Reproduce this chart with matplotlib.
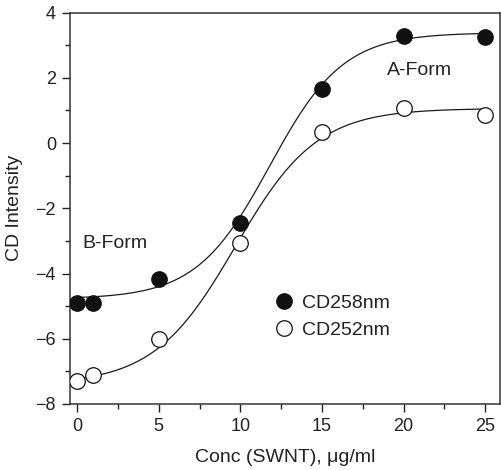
import numpy as np
import matplotlib
matplotlib.use("Agg")
import matplotlib.pyplot as plt
from matplotlib.ticker import MultipleLocator

plt.rcParams['font.family'] = ['Liberation Sans', 'DejaVu Sans']

# Data
conc = [0, 1, 5, 10, 15, 20, 25]
cd258 = [-4.9, -4.9, -4.17, -2.45, 1.65, 3.28, 3.25]
cd252 = [-7.3, -7.1, -6.0, -3.05, 0.33, 1.08, 0.85]

# Boltzmann sigmoid fit parameters (A1, A2, x0, dx) estimated from the drawn curves
fit258 = [-4.78, 3.38, 11.8, 2.25]
fit252 = [-7.4, 1.06, 9.7, 2.5]

xticks = [0, 5, 10, 15, 20, 25]
yticks = [-8, -6, -4, -2, 0, 2, 4]


def boltzmann(x, p):
    a1, a2, x0, dx = p
    return a2 + (a1 - a2) / (1 + np.exp((x - x0) / dx))


fig = plt.figure(figsize=(5.02, 4.70), dpi=100)
ax = fig.add_axes([70 / 502, 66 / 470, 430 / 502, 391.5 / 470])

xs = np.linspace(0, 25, 300)
ax.plot(xs, boltzmann(xs, fit258), color='#1a1a1a', lw=0.9, zorder=2)
ax.plot(xs, boltzmann(xs, fit252), color='#1a1a1a', lw=0.9, zorder=2)

ax.plot(conc, cd258, 'o', ms=11.2, mfc='#111111', mec='#111111', mew=0.8,
        ls='none', zorder=3, label='CD258nm')
ax.plot(conc, cd252, 'o', ms=11.2, mfc='white', mec='#111111', mew=0.9,
        ls='none', zorder=3, label='CD252nm')

ax.set_xlim(-0.43, 25.9)
ax.set_ylim(-8, 4)
ax.set_xticks(xticks)
ax.set_yticks(yticks)
ax.xaxis.set_minor_locator(MultipleLocator(2.5))
ax.yaxis.set_minor_locator(MultipleLocator(1))
ax.tick_params(which='major', direction='out', length=6, width=1.0,
               labelsize=13, pad=4, colors='#222222')
ax.tick_params(which='minor', direction='out', length=3.5, width=1.0,
               colors='#222222')
for s in ax.spines.values():
    s.set_linewidth(1.1)
    s.set_color('#333333')

ax.set_xlabel('Conc (SWNT), μg/ml', fontsize=14, color='#222222', labelpad=10)
ax.set_ylabel('CD Intensity', fontsize=14, color='#222222', labelpad=9)

ax.text(18.95, 2.23, 'A-Form', fontsize=14, ha='left', va='center', color='#222222')
ax.text(0.3, -3.07, 'B-Form', fontsize=14, ha='left', va='center', color='#222222')

leg = ax.legend(loc='upper left', bbox_to_anchor=(0.44, 0.315), frameon=False,
                fontsize=14, handletextpad=0.3, labelspacing=0.5,
                handlelength=1.2, borderpad=0.2)
for t in leg.get_texts():
    t.set_color('#222222')

fig.savefig('out.png', dpi=100)
